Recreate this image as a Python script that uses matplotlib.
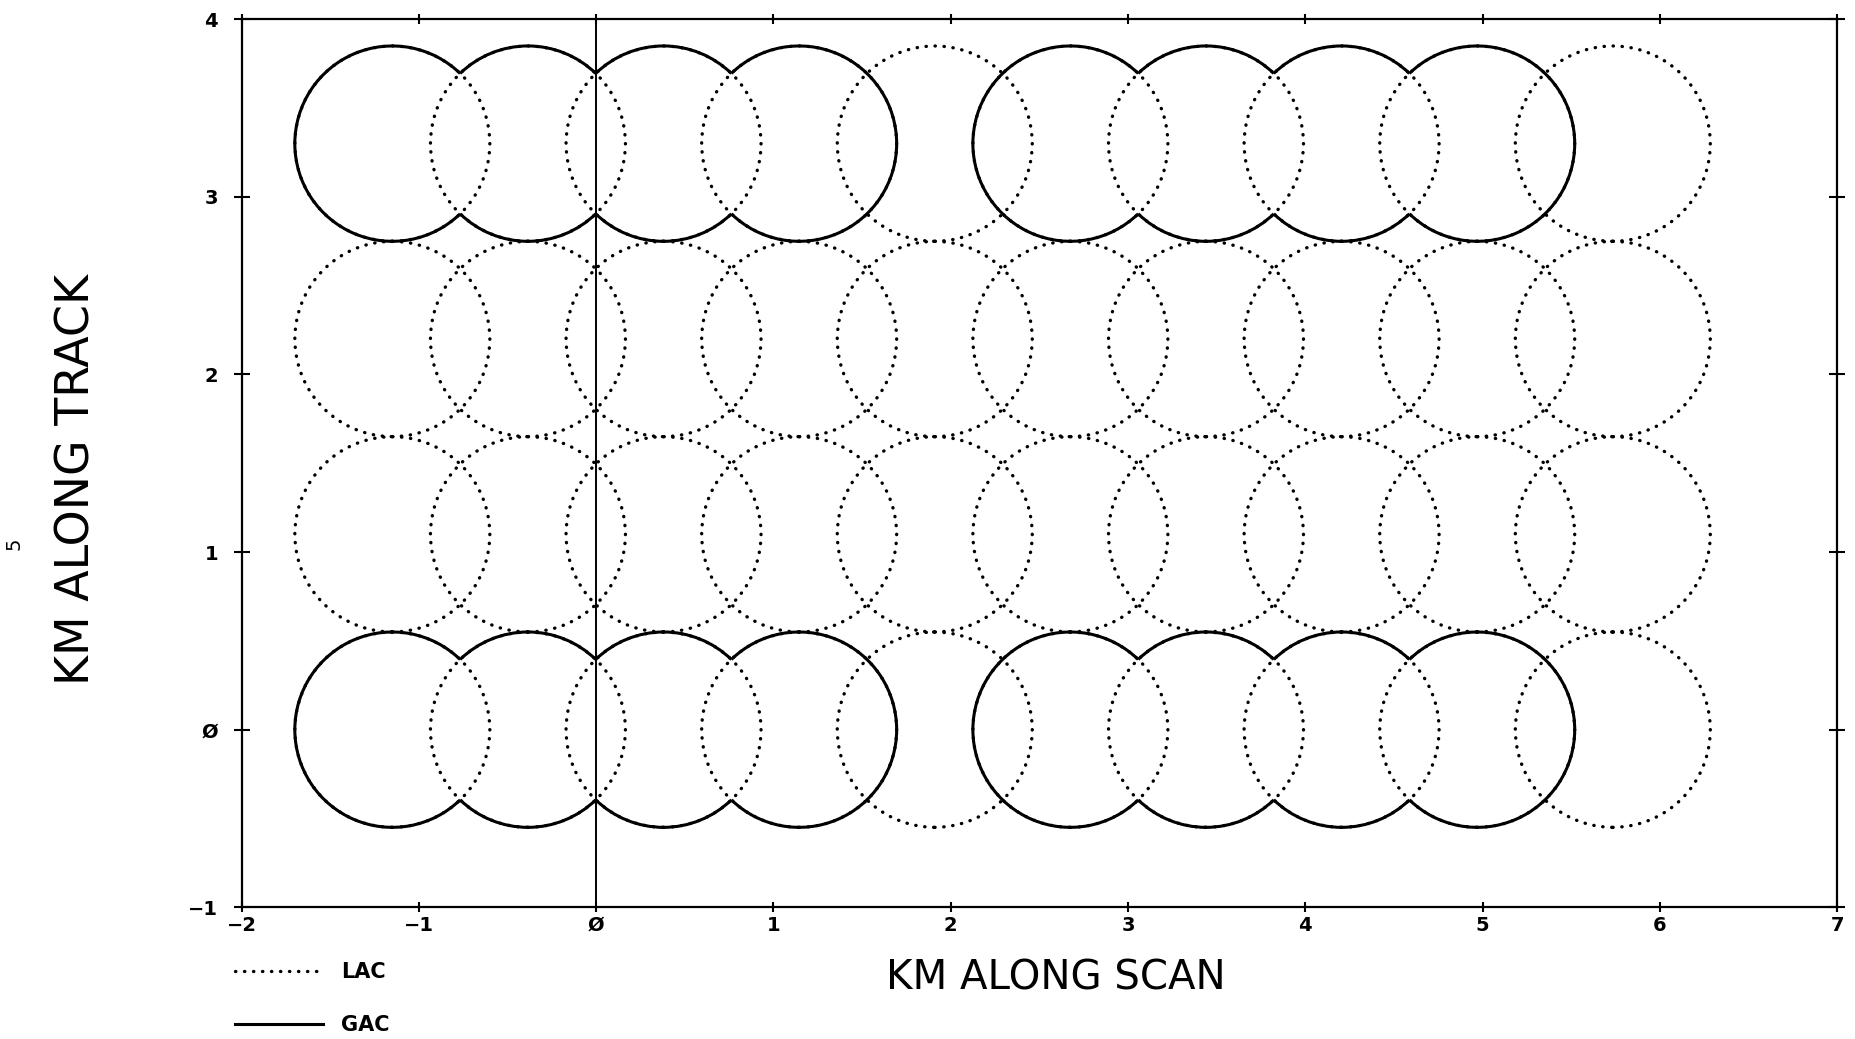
import numpy as np
import matplotlib.pyplot as plt
from matplotlib.patches import Circle, Arc
from matplotlib.lines import Line2D

# footprint centres (km)
scan_x = [-1.15, -0.385, 0.38, 1.145, 1.91, 2.675, 3.44, 4.205, 4.97, 5.735]
track_y = [0.0, 1.1, 2.2, 3.3]
radius = 0.55

# GAC: lines 1 and 4, samples 1-4 and 6-9 averaged
gac_rows = [0.0, 3.3]
gac_groups = [[0, 1, 2, 3], [5, 6, 7, 8]]

x_ticks = [-2, -1, 0, 1, 2, 3, 4, 5, 6, 7]
x_tick_labels = ['−2', '−1', 'Ø', '1', '2', '3', '4', '5', '6', '7']
y_ticks = [-1, 0, 1, 2, 3, 4]
y_tick_labels = ['−1', 'Ø', '1', '2', '3', '4']

plt.rcParams['font.family'] = ['DejaVu Sans']

fig = plt.figure(figsize=(18.56, 10.39), dpi=100)
ax = fig.add_axes([0.1302, 0.1268, 0.8596, 0.8546])

dot_lw = 2.4
dotted = (0, (0.1, 2.6))
lw = 2.2

# LAC footprints
for cy in track_y:
    for cx in scan_x:
        ax.add_patch(Circle((cx, cy), radius, fill=False, ec='black', lw=dot_lw,
                            ls=dotted, capstyle='round'))


def half_angle(d):
    return np.degrees(np.arccos(d / (2 * radius)))


# GAC outline = outer envelope of each group
for cy in gac_rows:
    for grp in gac_groups:
        for k, i in enumerate(grp):
            cx = scan_x[i]
            arcs = []
            if k == 0:
                a = half_angle(scan_x[grp[k + 1]] - cx)
                arcs.append((a, 360 - a))
            elif k == len(grp) - 1:
                a = half_angle(cx - scan_x[grp[k - 1]])
                arcs.append((a - 180, 180 - a))
            else:
                ar = half_angle(scan_x[grp[k + 1]] - cx)
                al = half_angle(cx - scan_x[grp[k - 1]])
                arcs.append((ar, 180 - al))
                arcs.append((180 + al, 360 - ar))
            for t1, t2 in arcs:
                ax.add_patch(Arc((cx, cy), 2 * radius, 2 * radius, theta1=t1,
                                 theta2=t2, lw=lw, color='black'))

ax.axvline(0, color='black', lw=1.4)

ax.set_xlim(-2, 7)
ax.set_ylim(-1, 4)
ax.set_xticks(x_ticks)
ax.set_xticklabels(x_tick_labels)
ax.set_yticks(y_ticks)
ax.set_yticklabels(y_tick_labels)
ax.tick_params(axis='x', direction='inout', length=6.5, width=1.5, top=True,
               labelsize=14, pad=3)
ax.tick_params(axis='y', direction='inout', length=12, width=1.5, right=True,
               labelsize=14, pad=11)
for lab in ax.get_xticklabels() + ax.get_yticklabels():
    lab.set_fontweight('bold')
for sp in ax.spines.values():
    sp.set_linewidth(1.6)

ax.set_xlabel('KM ALONG SCAN', fontsize=29)
ax.xaxis.set_label_coords(0.51, -0.058)
ax.set_ylabel('KM ALONG TRACK', fontsize=33, va='center')
ax.yaxis.set_label_coords(-0.1035, 0.482)

fig.text(0.0075, 0.477, '5', rotation=90, fontsize=14, ha='center', va='center')

handles = [Line2D([], [], color='black', lw=dot_lw, ls=dotted, dash_capstyle='round'),
           Line2D([], [], color='black', lw=lw)]
fig.legend(handles, ['LAC', 'GAC'], loc='upper left',
           bbox_to_anchor=(235 / 1856, 0.074), bbox_transform=fig.transFigure,
           frameon=False, borderpad=0, borderaxespad=0, handlelength=4.2,
           handletextpad=0.9, labelspacing=1.6, prop={'size': 15, 'weight': 'bold'})

fig.savefig('out.png', dpi=100)
